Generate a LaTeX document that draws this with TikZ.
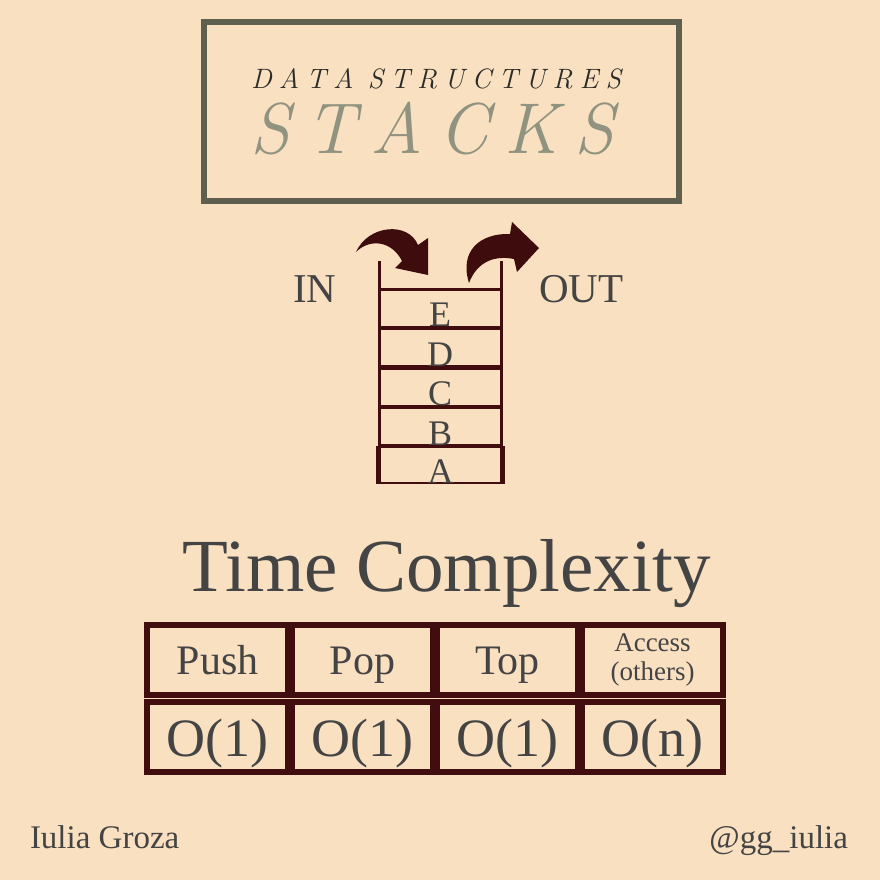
\documentclass[tikz,border=0pt]{standalone}
\usepackage{fontspec}
\setmainfont{Liberation Serif}
\newfontfamily\titlefont{Latin Modern Roman}
\usetikzlibrary{positioning}

\definecolor{paper}{HTML}{F9E0C1}
\definecolor{maroon}{HTML}{420D0E}
\definecolor{ink}{HTML}{444444}
\definecolor{framegray}{HTML}{5E5F4F}
\definecolor{sage}{HTML}{8F937F}
\definecolor{darkink}{HTML}{2B2B28}

\tikzset{
  slot/.style={draw=maroon, line width=2.5pt, minimum width=122pt, minimum height=37.5pt},
  letter/.style={font=\fontsize{36}{36}\selectfont, anchor=base, text=ink},
  wall/.style={draw=maroon, line width=3pt},
  cell/.style={draw=maroon, fill=paper, line width=6pt, minimum width=141pt, minimum height=70pt, text=ink},
  opname/.style={font=\fontsize{42}{42}\selectfont, text height=28pt, text depth=0pt},
  cost/.style={font=\fontsize{54}{54}\selectfont, text height=38pt, text depth=0pt},
  bendarrow/.style={fill=maroon!95!black},
}

\begin{document}
\begin{tikzpicture}[x=1pt, y=-1pt, every node/.style={inner sep=0pt, outer sep=0pt}]
  \fill[paper] (0,0) rectangle (880,880);
  \useasboundingbox (0,0) rectangle (880,880);

  % title
  \node[draw=framegray, line width=6pt, minimum width=475pt, minimum height=179pt] (frame) at (441.5,111.5) {};
  \node[anchor=base west, text=darkink, font=\titlefont\itshape\fontsize{28}{28}\selectfont] (subtitle) at (251,89)
    {\makebox[370pt][s]{D\hfill A\hfill T\hfill A\hfill\hfill S\hfill T\hfill R\hfill U\hfill C\hfill T\hfill U\hfill R\hfill E\hfill S}};
  \node[anchor=base west, text=sage, font=\titlefont\itshape\fontsize{72}{72}\selectfont] (title) at (250,153)
    {\makebox[364pt][s]{S\hfill T\hfill A\hfill C\hfill K\hfill S}};

  % stack
  \begin{scope}
    \node[slot] (slotE) at (440,308) {};
    \node[slot] (slotD) at (440,347.5) {};
    \node[slot] (slotC) at (440,387) {};
    \node[slot] (slotB) at (440,426.5) {};
    \node[slot, minimum width=127pt, minimum height=36pt] (slotA) at (440.5,465) {};
  \end{scope}

  \coordinate (wallL) at (379,261);
  \coordinate (wallR) at (501,261);
  \draw[wall] (wallL) -- (wallL |- slotA.south);
  \draw[wall] (wallR) -- (wallR |- slotA.south);

  \node[letter] (letE) at (slotE.south) {E};
  \node[letter] (letD) at (slotD.south) {D};
  \node[letter] (letC) at (slotC.south) {C};
  \node[letter] (letB) at (slotB.south) {B};
  \node[letter] (letA) at (slotA.south) {A};

  \node[anchor=base west, text=ink, font=\fontsize{41}{41}\selectfont] (in) at (293,302) {IN};
  \node[anchor=base west, text=ink, font=\fontsize{41}{41}\selectfont] (out) at (539,302) {OUT};

  % push and pop arrows
  \fill[bendarrow] (356,252) .. controls (368,225) and (408,221) .. (418,245)
    -- (428,238) -- (428,275) -- (395,268) -- (402,261)
    .. controls (392,241) and (370,238) .. (356,252) -- cycle;
  \fill[bendarrow] (469,283) .. controls (459,251) and (480,233) .. (510,234)
    -- (512,222) -- (539,248) -- (517,272) -- (514,259)
    .. controls (494,255) and (477,262) .. (469,283) -- cycle;

  % time complexity table
  \node[anchor=base west, text=ink, font=\fontsize{75}{75}\selectfont] (heading) at (182,591.5) {Time Complexity};

  \begin{scope}
    \node[cell, opname] (push) at (217.5,660) {Push};
    \node[cell, opname] (pop) at (362.5,660) {Pop};
    \node[cell, opname] (top) at (507.5,660) {Top};
    \node[cell, align=center, font=\fontsize{27}{28.6}\selectfont] (access) at (652.5,660) {Access\\(others)};
    \node[cell, cost] (pushcost) at (217.5,737) {O(1)};
    \node[cell, cost] (popcost) at (362.5,737) {O(1)};
    \node[cell, cost] (topcost) at (507.5,737) {O(1)};
    \node[cell, cost] (accesscost) at (652.5,737) {O(n)};
  \end{scope}

  % credits
  \node[anchor=base west, text=ink, font=\fontsize{33}{33}\selectfont] (author) at (30,848) {Iulia Groza};
  \node[anchor=base east, text=ink, font=\fontsize{33}{33}\selectfont] (handle) at (848,848) {@gg\_iulia};
\end{tikzpicture}
\end{document}
